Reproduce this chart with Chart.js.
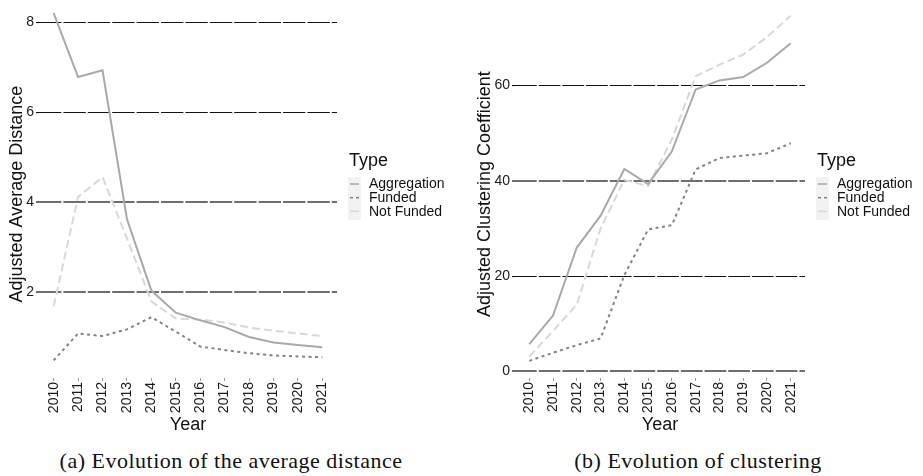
<!DOCTYPE html>
<html>
<head>
<meta charset="utf-8">
<script src="https://cdn.jsdelivr.net/npm/chart.js@4/dist/chart.umd.min.js"></script>
<style>
  html, body { margin: 0; padding: 0; background: #fff; }
  body { width: 923px; height: 476px; position: relative; overflow: hidden; }
  .panel { position: absolute; top: 0; height: 440px; }
  #left { left: 0; width: 460px; }
  #right { left: 460px; width: 463px; }
  .caption {
    position: absolute; top: 448px; font-family: "Liberation Serif", serif;
    font-size: 22px; letter-spacing: 0.5px; color: #111; text-align: center; white-space: nowrap;
  }
</style>
</head>
<body>
<div class="panel" id="left"><canvas id="distChart"></canvas></div>
<div class="panel" id="right"><canvas id="clusChart"></canvas></div>
<div class="caption" style="left:0;width:462px;">(a) Evolution of the average distance</div>
<div class="caption" style="left:460px;width:476px;">(b) Evolution of clustering</div>
<script>
// Data
const years = [2010, 2011, 2012, 2013, 2014, 2015, 2016, 2017, 2018, 2019, 2020, 2021];
const seriesNames = ['Aggregation', 'Funded', 'Not Funded'];

const distAggregation = [8.2, 6.78, 6.93, 3.63, 2.04, 1.55, 1.38, 1.23, 1.01, 0.89, 0.83, 0.78];
const distFunded = [0.49, 1.09, 1.03, 1.18, 1.45, 1.13, 0.80, 0.72, 0.65, 0.60, 0.58, 0.56];
const distNotFunded = [1.69, 4.12, 4.56, 3.2, 1.80, 1.42, 1.40, 1.33, 1.22, 1.15, 1.09, 1.03];
const distTicks = [2, 4, 6, 8];

const clusAggregation = [5.7, 11.7, 26.0, 32.7, 42.5, 39.3, 46.2, 59.2, 61.1, 61.8, 64.8, 68.9];
const clusFunded = [2.2, 3.9, 5.5, 6.9, 20.2, 29.8, 30.7, 42.4, 44.8, 45.3, 45.8, 47.9];
const clusNotFunded = [3.1, 8.5, 14.0, 30.0, 40.2, 38.9, 48.7, 62.0, 64.4, 66.5, 70.2, 74.7];
const clusTicks = [0, 20, 40, 60];

const FONT = '"Liberation Sans", Arial, sans-serif';

// Type legend drawn next to the plot
const typeLegend = {
  id: 'typeLegend',
  afterDraw(chart) {
    const ctx = chart.ctx;
    const x = chart.chartArea.right + 12;
    ctx.save();
    ctx.fillStyle = '#111';
    ctx.font = '18px ' + FONT;
    ctx.textBaseline = 'middle';
    ctx.fillText('Type', x, 161);
    ctx.fillStyle = '#f2f2f2';
    ctx.fillRect(x - 1, 177, 13, 43);
    chart.data.datasets.forEach((ds, i) => {
      const y = 184 + i * 13.7;
      ctx.strokeStyle = ds.borderColor;
      ctx.lineWidth = 1.6;
      ctx.setLineDash(i === 1 ? [3, 3] : []);
      ctx.beginPath();
      ctx.moveTo(x + 1, y);
      ctx.lineTo(x + 10, y);
      ctx.stroke();
      ctx.setLineDash([]);
      ctx.fillStyle = '#111';
      ctx.font = '14px ' + FONT;
      ctx.fillText(ds.label, x + 20, y + 0.5);
    });
    ctx.restore();
  }
};

function makeChart(id, values, ticks, softTicks, yTitle, yMin, yMax, yWidth, titlePad, padRight, gridStep) {
  const datasets = [
    { label: seriesNames[0], data: years.map((yr, i) => ({ x: yr, y: values[0][i] })),
      borderColor: '#a9a9a9', borderWidth: 2, borderDash: [] },
    { label: seriesNames[1], data: years.map((yr, i) => ({ x: yr, y: values[1][i] })),
      borderColor: '#838383', borderWidth: 2, borderDash: [3, 3.5] },
    { label: seriesNames[2], data: years.map((yr, i) => ({ x: yr, y: values[2][i] })),
      borderColor: '#d8d8d8', borderWidth: 2, borderDash: [8, 4] }
  ];
  const soft = (c) => softTicks.includes(c.tick ? c.tick.value : ticks[c.index]);
  return new Chart(document.getElementById(id), {
    type: 'line',
    data: { datasets },
    options: {
      responsive: true,
      maintainAspectRatio: false,
      animation: false,
      events: [],
      elements: { point: { radius: 0 }, line: { tension: 0 } },
      layout: { padding: { top: 4, right: padRight, left: 0, bottom: 0 } },
      plugins: { legend: { display: false }, tooltip: { enabled: false } },
      scales: {
        x: {
          type: 'linear',
          min: years[0] - 0.6,
          max: years[years.length - 1] + 0.6,
          afterBuildTicks: (s) => { s.ticks = years.map(v => ({ value: v })); },
          afterFit: (s) => { s.height = 62; },
          border: { display: false },
          grid: { drawOnChartArea: false, tickLength: 3, color: '#9a9a9a', lineWidth: 1 },
          ticks: {
            minRotation: 90, maxRotation: 90, padding: 1, autoSkip: false,
            color: '#1a1a1a', font: { family: FONT, size: 14 },
            callback: (v) => String(v)
          },
          title: { display: true, text: 'Year', color: '#111', padding: { top: 0, bottom: 4 },
            font: { family: FONT, size: 18 } }
        },
        y: {
          min: yMin,
          max: yMax,
          afterBuildTicks: (s) => { s.ticks = ticks.map(v => ({ value: v })); },
          afterFit: (s) => { s.width = yWidth; },
          border: { display: false, dash: [gridStep - 2, 2] },
          grid: {
            tickLength: 3,
            color: (c) => (soft(c) ? '#6e6e6e' : '#111'),
            lineWidth: (c) => (soft(c) ? 2 : 1.1),
            tickColor: (c) => (soft(c) ? '#6e6e6e' : '#111')
          },
          ticks: { padding: 2, color: '#1a1a1a', font: { family: FONT, size: 14 } },
          title: { display: true, text: yTitle, color: '#111', padding: { top: titlePad, bottom: 0 },
            font: { family: FONT, size: 18 } }
        }
      }
    },
    plugins: [typeLegend]
  });
}

makeChart('distChart', [distAggregation, distFunded, distNotFunded], distTicks, [2, 4],
  'Adjusted Average Distance', 0.1, 8.26, 39, 6, 123, 24.4);
makeChart('clusChart', [clusAggregation, clusFunded, clusNotFunded], clusTicks, [0, 40],
  'Adjusted Clustering Coefficient', -1.4, 75.8, 55, 14, 118, 23.7);
</script>
</body>
</html>
